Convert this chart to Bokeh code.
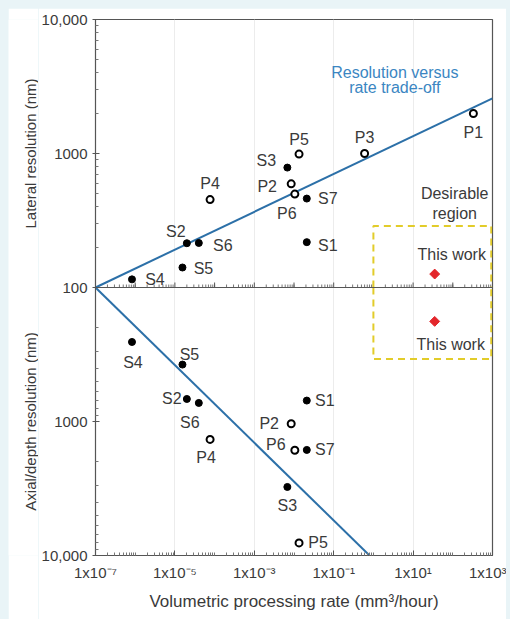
from bokeh.plotting import figure
from bokeh.layouts import row, column
from bokeh.models import (ColumnDataSource, Range1d, LogAxis, FixedTicker, Span,
                          LogScale, Spacer)
from bokeh.core.properties import value
from bokeh.embed import file_html
from bokeh.resources import INLINE
import math

# ---------------- data ----------------
names = ["S1", "S2", "S3", "S4", "S5", "S6", "S7",
         "P1", "P2", "P3", "P4", "P5", "P6"]
rate = [0.021, 2.0e-5, 0.0068, 8.3e-7, 1.55e-5, 4.0e-5, 0.021,
        330, 0.0085, 0.6, 7.7e-5, 0.0134, 0.0105]
lateral = [218, 214, 785, 115, 141, 215, 461,
           1990, 594, 1000, 453, 990, 498]
axial = [698, 679, 3080, 255, 376, 727, 1630,
         float("nan"), 1040, float("nan"), 1360, 8050, 1640]
open_marker = [False] * 7 + [True] * 6

this_work_rate = [35]
this_work_lateral = [126]
this_work_axial = [179]

# trade-off lines
lat_line_rate = [1e-7, 1e3]
lat_line_res = [100, 2580]
ax_line_rate = [1e-7, 0.8]
ax_line_res = [100, 10000]

# desirable region (rate bounds, lateral bound, axial bound)
region_rate = [1.0, 930]
region_lateral = 288
region_axial = 341

x_tick_values = [1e-7, 1e-5, 1e-3, 1e-1, 1e1, 1e3]
x_tick_labels = ["1x10⁻⁷", "1x10⁻⁵", "1x10⁻³", "1x10⁻¹", "1x10¹", "1x10³"]
y_tick_labels_top = ["100", "1000", "10,000"]
y_tick_labels_bottom = ["1000", "10,000"]

# label offsets (px)
top_dx = [21, -11, -21, 23, 21, 24, 21, 0, -24, 0, 0, 0, -8]
top_dy = [3, -12, -7, 0, 1, 3, 0, 19, 3, -16, -16, -15, 19]
bot_dx = [18, -15, 0, 1, 7, -9, 18, 0, -22, 0, -4, 19, -19]
bot_dy = [0, 0, 19, 21, -10, 20, 0, 0, 0, 0, 18, 0, -6]

FONT = "Liberation Sans"
TXT = "#3a3a3a"
BLUE = "#2c70a8"
AXC = "#555555"

lat_range = Range1d(1, 10000)

p = figure(width=468, height=611, x_axis_type="log",
           x_range=Range1d(1e-7, 1e3),
           y_axis_type=None, y_range=lat_range,
           output_backend="svg", toolbar_location=None,
           min_border_left=54, min_border_right=14,
           min_border_top=11, min_border_bottom=64)
p.y_scale = LogScale()
p.extra_y_ranges = {"axial": Range1d(10000, 1)}
p.extra_y_scales = {"axial": LogScale()}

p.outline_line_color = AXC
p.outline_line_width = 1.2
p.background_fill_color = "white"
p.border_fill_color = "white"

# y axis: top half = lateral (100..10000), bottom half = axial (100..10000 inverted)
yax = LogAxis()
top_minor = [k * 10 ** e for e in (2, 3) for k in range(2, 10)]
bot_minor = [1e4 / (k * 10 ** e) for e in (2, 3) for k in range(2, 10)]
yax.ticker = FixedTicker(ticks=[1, 10, 100, 1000, 10000],
                         minor_ticks=top_minor + bot_minor)
yax.major_label_overrides = {100: y_tick_labels_top[0], 1000: y_tick_labels_top[1],
                             10000: y_tick_labels_top[2],
                             10: y_tick_labels_bottom[0], 1: y_tick_labels_bottom[1]}
yax.axis_line_color = AXC
yax.major_tick_line_color = AXC
yax.minor_tick_line_color = "#777777"
yax.major_tick_in = 4
yax.major_tick_out = 3
yax.minor_tick_in = 3
yax.minor_tick_out = 0
yax.major_label_standoff = 5
yax.major_label_text_font = FONT
yax.major_label_text_font_size = "15px"
yax.major_label_text_color = TXT
p.add_layout(yax, "left")

xax = p.xaxis[0]
x_minor = [k * 10 ** e for e in range(-7, 3) for k in range(1, 10)
           if 10 ** e * k not in x_tick_values]
xax.ticker = FixedTicker(ticks=x_tick_values, minor_ticks=x_minor)
xax.major_label_overrides = dict(zip(x_tick_values, x_tick_labels))
xax.axis_label = "Volumetric processing rate (mm³/hour)"
xax.axis_label_text_font = FONT
xax.axis_label_text_font_style = "normal"
xax.axis_label_text_font_size = "17px"
xax.axis_label_text_color = TXT
xax.axis_label_standoff = 8
xax.axis_line_color = AXC
xax.major_tick_line_color = AXC
xax.minor_tick_line_color = "#777777"
xax.major_tick_in = 5
xax.major_tick_out = 0
xax.minor_tick_in = 3
xax.minor_tick_out = 0
xax.major_label_standoff = 8
xax.major_label_text_font = FONT
xax.major_label_text_font_size = "15px"
xax.major_label_text_color = TXT

p.xgrid.grid_line_color = "#ececec"
p.ygrid.grid_line_color = "#ececec"
p.ygrid.ticker = FixedTicker(ticks=[10, 1000])

# middle dividing line with its own small ticks
p.add_layout(Span(location=100, dimension="width", line_color=AXC, line_width=1.2))
mid_major = [10.0 ** e for e in range(-6, 3)]
p.ray(x=x_minor, y=[100] * len(x_minor), length=3, length_units="screen",
      angle=math.pi / 2, line_color="#777777", line_width=1)
p.ray(x=mid_major, y=[100] * len(mid_major), length=5, length_units="screen",
      angle=math.pi / 2, line_color=AXC, line_width=1)

# trade-off lines
p.line(lat_line_rate, lat_line_res, line_color=BLUE, line_width=2)
p.line(ax_line_rate, ax_line_res, line_color=BLUE, line_width=2, y_range_name="axial")

# desirable region box
YEL = "#e2cc2a"
p.line([region_rate[0], region_rate[0], region_rate[1], region_rate[1]],
       [100, region_lateral, region_lateral, 100],
       line_color=YEL, line_width=2, line_dash="7 5")
p.line([region_rate[0], region_rate[0], region_rate[1], region_rate[1]],
       [100, region_axial, region_axial, 100],
       line_color=YEL, line_width=2, line_dash="7 5", y_range_name="axial")

# data points
src = ColumnDataSource(dict(name=names, rate=rate, lat=lateral, ax=axial,
                            tdx=top_dx, tdy=top_dy, bdx=bot_dx, bdy=bot_dy,
                            fill=["white" if o else "black" for o in open_marker],
                            lw=[2 if o else 1 for o in open_marker]))
p.scatter("rate", "lat", source=src, size=7, fill_color="fill",
          line_color="black", line_width="lw")
p.scatter("rate", "ax", source=src, size=7, fill_color="fill",
          line_color="black", line_width="lw", y_range_name="axial")
p.text("rate", "lat", text="name", source=src, x_offset="tdx", y_offset="tdy",
       text_align="center", text_baseline="middle",
       text_font=value(FONT), text_font_size="16px", text_color=TXT)
p.text("rate", "ax", text="name", source=src, x_offset="bdx", y_offset="bdy",
       text_align="center", text_baseline="middle",
       text_font=value(FONT), text_font_size="16px", text_color=TXT,
       y_range_name="axial")

# this work
RED = "#e3262b"
p.scatter(this_work_rate, this_work_lateral, marker="square", angle=math.pi / 4,
          size=7, fill_color=RED, line_color=RED)
p.scatter(this_work_rate, this_work_axial, marker="square", angle=math.pi / 4,
          size=7, fill_color=RED, line_color=RED, y_range_name="axial")
p.text(this_work_rate, this_work_lateral, text=["This work"], x_offset=17, y_offset=-20,
       text_align="center", text_baseline="middle",
       text_font=value(FONT), text_font_size="16px", text_color=TXT)
p.text(this_work_rate, this_work_axial, text=["This work"], x_offset=16, y_offset=23,
       text_align="center", text_baseline="middle",
       text_font=value(FONT), text_font_size="16px", text_color=TXT,
       y_range_name="axial")

# annotations
p.text([1e2], [2580], text=["Resolution versus"], x_offset=-58, y_offset=-26,
       text_align="center", text_baseline="middle",
       text_font=value(FONT), text_font_size="16px", text_color="#3b86c2")
p.text([1e2], [2580], text=["rate trade-off"], x_offset=-58, y_offset=-11,
       text_align="center", text_baseline="middle",
       text_font=value(FONT), text_font_size="16px", text_color="#3b86c2")
p.text([35], [region_lateral], text=["Desirable"], x_offset=20, y_offset=-32,
       text_align="center", text_baseline="middle",
       text_font=value(FONT), text_font_size="16px", text_color=TXT)
p.text([35], [region_lateral], text=["region"], x_offset=20, y_offset=-12,
       text_align="center", text_baseline="middle",
       text_font=value(FONT), text_font_size="16px", text_color=TXT)

# left strip carrying the two y-axis titles
left = figure(width=30, height=611, x_range=Range1d(0, 1), y_range=lat_range,
              y_axis_type=None, x_axis_type=None,
              output_backend="svg", toolbar_location=None,
              min_border_left=0, min_border_right=0,
              min_border_top=11, min_border_bottom=64)
left.y_scale = LogScale()
left.outline_line_color = None
left.grid.visible = False
left.border_fill_color = "white"
left.background_fill_color = "white"
left.text([0.72, 0.72], [1000, 10],
          text=["Lateral resolution (nm)", "Axial/depth resolution (nm)"],
          angle=math.pi / 2, text_align="center", text_baseline="middle",
          text_font=value(FONT), text_font_size="15px", text_color=TXT)

layout = column(Spacer(height=8, width=510),
                row(Spacer(width=8, height=611), left, p),
                styles={"background-color": "#e9f4f7"})

open("out.html", "w").write(file_html(layout, INLINE))
